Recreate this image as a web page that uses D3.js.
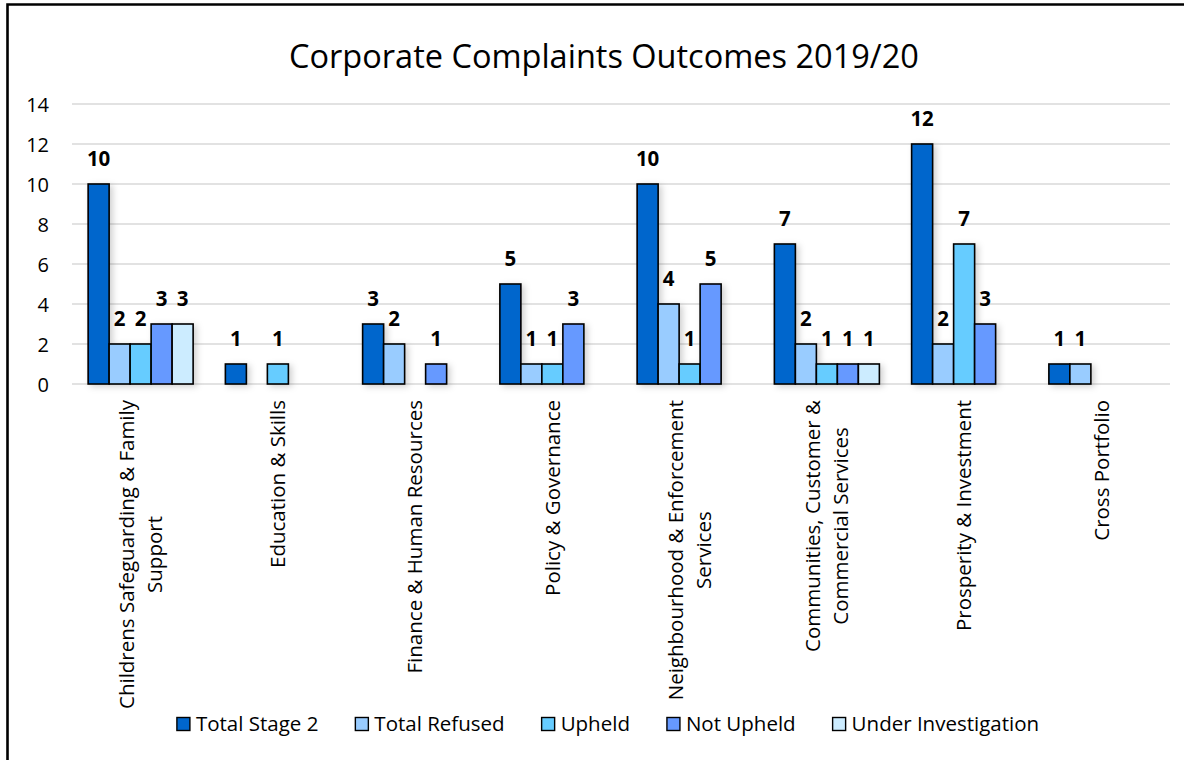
<!DOCTYPE html>
<html>
<head>
<meta charset="utf-8">
<script src="https://cdn.jsdelivr.net/npm/d3@7"></script>
<style>
  body { margin: 0; background: #fff; }
  svg text { font-family: "Open Sans", "Noto Sans", sans-serif; fill: #000; }
</style>
</head>
<body>
<div id="draw"></div>
<script>
// chart data
var categoryLines = [
  ['Childrens Safeguarding & Family', 'Support'],
  ['Education & Skills'],
  ['Finance & Human Resources'],
  ['Policy & Governance'],
  ['Neighbourhood & Enforcement', 'Services'],
  ['Communities, Customer &', 'Commercial Services'],
  ['Prosperity & Investment'],
  ['Cross Portfolio']
];
var categories = categoryLines.map(function(l){ return l.join(' '); });

var seriesNames = ['Total Stage 2', 'Total Refused', 'Upheld', 'Not Upheld', 'Under Investigation'];
var seriesColors = ['#0066CC', '#99CCFF', '#66CCFF', '#6699FF', '#CCECFF'];

var totalStage2 = [10, 1, 3, 5, 10, 7, 12, 1];
var totalRefused = [2, 0, 2, 1, 4, 2, 2, 1];
var upheld = [2, 1, 0, 1, 1, 1, 7, 0];
var notUpheld = [3, 0, 1, 3, 5, 1, 3, 0];
var underInvestigation = [3, 0, 0, 0, 0, 1, 0, 0];

var yTicks = [0, 2, 4, 6, 8, 10, 12, 14];
var chartTitle = 'Corporate Complaints Outcomes 2019/20';

var seriesValues = [totalStage2, totalRefused, upheld, notUpheld, underInvestigation];

var W = 1184, H = 760;
var plot = { left: 72, right: 1170, top: 104, bottom: 384 };

var svg = d3.select('#draw').append('svg')
    .attr('width', W).attr('height', H)
    .style('display', 'block');

svg.append('rect').attr('width', W).attr('height', H).attr('fill', '#fff');

// soft shadow like the office chart
var f = svg.append('defs').append('filter').attr('id', 'shadow')
    .attr('x', '-20%').attr('y', '-20%').attr('width', '160%').attr('height', '140%');
f.append('feDropShadow').attr('dx', 3).attr('dy', 2).attr('stdDeviation', 3)
    .attr('flood-color', '#000').attr('flood-opacity', 0.18);

// frame (cut at the picture edges)
svg.append('path')
    .attr('d', 'M7.5,' + H + ' V4.5 H' + W)
    .attr('fill', 'none').attr('stroke', '#000').attr('stroke-width', 2.6);

svg.append('text')
    .attr('x', 604).attr('y', 68)
    .attr('text-anchor', 'middle')
    .style('font-size', '32.5px')
    .text(chartTitle);

var y = d3.scaleLinear().domain([0, 14]).range([plot.bottom, plot.top]);
var x0 = d3.scaleBand().domain(categories).range([plot.left, plot.right])
    .paddingInner(0.235).paddingOuter(0.1175);
var x1 = d3.scaleBand().domain(seriesNames).range([0, x0.bandwidth()]);

// gridlines
svg.append('g').selectAll('line').data(yTicks).enter().append('line')
    .attr('x1', plot.left).attr('x2', plot.right)
    .attr('y1', function(d){ return y(d); }).attr('y2', function(d){ return y(d); })
    .attr('stroke', '#D9D9D9').attr('stroke-width', 1.5);

// y axis labels
var yAxis = svg.append('g')
    .attr('transform', 'translate(' + 49 + ',0)')
    .call(d3.axisLeft(y).tickValues(yTicks).tickSize(0).tickPadding(0));
yAxis.select('.domain').remove();
yAxis.selectAll('text').style('font-size', '20px').attr('dy', '0.35em');

// bars
var rows = [];
categories.forEach(function(c, i){
  seriesNames.forEach(function(s, j){
    rows.push({ cat: c, series: s, value: seriesValues[j][i], color: seriesColors[j] });
  });
});
var shown = rows.filter(function(d){ return d.value > 0; });

svg.append('g').attr('filter', 'url(#shadow)').selectAll('rect').data(shown).enter().append('rect')
    .attr('x', function(d){ return x0(d.cat) + x1(d.series); })
    .attr('y', function(d){ return y(d.value); })
    .attr('width', x1.bandwidth())
    .attr('height', function(d){ return y(0) - y(d.value); })
    .attr('fill', function(d){ return d.color; })
    .attr('stroke', '#000').attr('stroke-width', 1.6);

// value labels
svg.append('g').selectAll('text').data(shown).enter().append('text')
    .attr('x', function(d){ return x0(d.cat) + x1(d.series) + x1.bandwidth() / 2; })
    .attr('y', function(d){ return y(d.value) - 18; })
    .attr('text-anchor', 'middle')
    .style('font-size', '20.5px').style('font-weight', 'bold')
    .text(function(d){ return d.value; });

// category labels, rotated, lines centred on the longest one
var catG = svg.append('g');
categoryLines.forEach(function(lines, i){
  var cx = x0(categories[i]) + x0.bandwidth() / 2;
  var g = catG.append('g');
  var texts = lines.map(function(t){
    return g.append('text').style('font-size', '20.5px').attr('text-anchor', 'middle').text(t);
  });
  var maxLen = d3.max(texts, function(t){ return t.node().getComputedTextLength(); });
  var lh = 28;
  texts.forEach(function(t, k){
    var off = (k - (lines.length - 1) / 2) * lh;
    t.attr('dy', '0.35em')
     .attr('transform', 'translate(' + (cx + off) + ',' + (400 + maxLen / 2) + ') rotate(-90)');
  });
});

// legend
var legend = svg.append('g');
var items = seriesNames.map(function(s, j){
  var g = legend.append('g');
  g.append('rect').attr('x', 0).attr('y', -6.5).attr('width', 13).attr('height', 13)
    .attr('fill', seriesColors[j]).attr('stroke', '#000').attr('stroke-width', 1.4);
  var t = g.append('text').attr('x', 19).attr('dy', '0.35em').style('font-size', '20.5px').text(s);
  return { g: g, w: 19 + t.node().getComputedTextLength() };
});
var gap = 37;
var total = d3.sum(items, function(d){ return d.w; }) + gap * (items.length - 1);
var lx = 608 - total / 2;
items.forEach(function(it){
  it.g.attr('transform', 'translate(' + lx + ',724)');
  lx += it.w + gap;
});
</script>
</body>
</html>
